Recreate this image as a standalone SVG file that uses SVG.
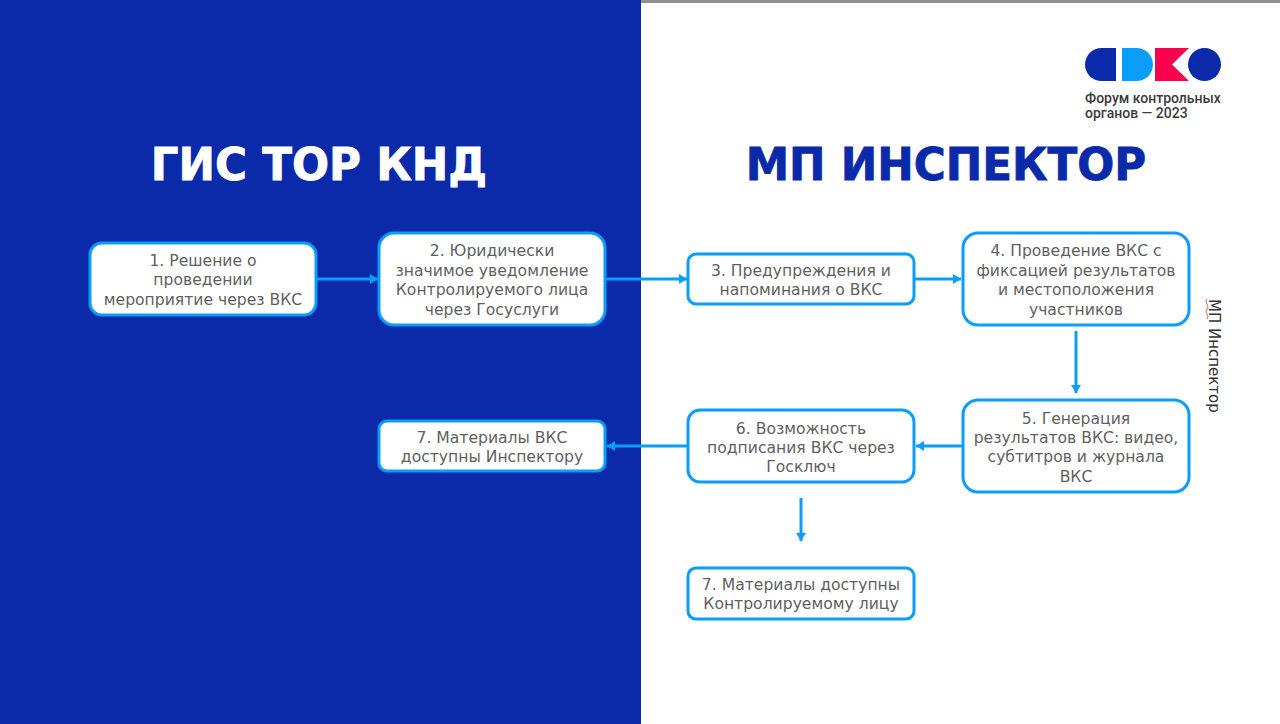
<svg xmlns="http://www.w3.org/2000/svg" width="1280" height="724" viewBox="0 0 1280 724">
<style>
.box{fill:#fff;stroke:#0a9dfb;stroke-width:3}
.t{font-family:"DejaVu Sans",Verdana,sans-serif;font-size:15.6px;fill:#5f5f5f;text-anchor:middle}
.h{font-family:"DejaVu Sans",Verdana,sans-serif;font-weight:700;font-size:43.6px;text-anchor:middle;stroke-width:0.8px}
.c{fill:none;stroke:#0a9dfb;stroke-width:3;marker-end:url(#a)}
.l{font-family:Roboto,"Liberation Sans",sans-serif;font-weight:500;font-size:14px;fill:#3c3c3c}
</style>
<defs>
<marker id="a" markerUnits="userSpaceOnUse" markerWidth="9" markerHeight="10" refX="8" refY="5" orient="auto"><path d="M0 0L8 5L0 10Z" fill="#0a9dfb"/></marker>
</defs>
<rect width="1280" height="724" fill="#fff"/>
<rect width="641" height="724" fill="#0a2aaa"/>
<rect x="641" width="639" height="3" fill="#8f8f8f"/>
<g id="logo">
<path d="M1116 48H1101.500A16.500 16.500 0 0 0 1101.500 81H1116Z" fill="#0a2aaa"/>
<path d="M1122 48H1136.500A16.500 16.500 0 0 1 1136.500 81H1122Z" fill="#0a9dfb"/>
<path d="M1155 48H1189L1172 64.500L1189 81H1155Z" fill="#fb004e"/>
<circle cx="1204.500" cy="64.500" r="16.500" fill="#0a2aaa"/>
<text class="l" x="1085" y="103">Форум контрольных</text>
<text class="l" x="1085" y="118">органов — 2023</text>
</g>
<text class="h" x="319" y="180" fill="#fff" stroke="#fff">ГИС ТОР КНД</text>
<text class="h" x="946" y="180" fill="#0a2aaa" stroke="#0a2aaa">МП ИНСПЕКТОР</text>
<g id="connectors">
<path class="c" d="M317 279H378"/>
<path class="c" d="M606 279H687"/>
<path class="c" d="M915 279H961"/>
<path class="c" d="M1076 331V393"/>
<path class="c" d="M962 446H916"/>
<path class="c" d="M687 446H607"/>
<path class="c" d="M801 498V541"/>
</g>
<g id="n1"><rect class="box" x="90" y="243" width="226" height="72" rx="12"/><text class="t"><tspan x="203" y="265.700">1. Решение о</tspan><tspan x="203" y="285.400">проведении</tspan><tspan x="203" y="304.700">мероприятие через ВКС</tspan></text></g>
<g id="n2"><rect class="box" x="379" y="233" width="226" height="92" rx="15"/><text class="t"><tspan x="492" y="256.400">2. Юридически</tspan><tspan x="492" y="276">значимое уведомление</tspan><tspan x="492" y="295.400">Контролируемого лица</tspan><tspan x="492" y="314.700">через Госуслуги</tspan></text></g>
<g id="n3"><rect class="box" x="688" y="254" width="226" height="50" rx="8"/><text class="t"><tspan x="801" y="275.700">3. Предупреждения и</tspan><tspan x="801" y="294.700">напоминания о ВКС</tspan></text></g>
<g id="n4"><rect class="box" x="963" y="233" width="226" height="92" rx="15"/><text class="t"><tspan x="1076" y="256.400">4. Проведение ВКС с</tspan><tspan x="1076" y="276">фиксацией результатов</tspan><tspan x="1076" y="295.400">и местоположения</tspan><tspan x="1076" y="314.700">участников</tspan></text></g>
<g id="n5"><rect class="box" x="963" y="400" width="226" height="92" rx="15"/><text class="t"><tspan x="1076" y="423.700">5. Генерация</tspan><tspan x="1076" y="443.400">результатов ВКС: видео,</tspan><tspan x="1076" y="462.400">субтитров и журнала</tspan><tspan x="1076" y="481.700">ВКС</tspan></text></g>
<g id="n6"><rect class="box" x="688" y="410" width="226" height="72" rx="12"/><text class="t"><tspan x="801" y="433.700">6. Возможность</tspan><tspan x="801" y="452.700">подписания ВКС через</tspan><tspan x="801" y="471.700">Госключ</tspan></text></g>
<g id="n7a"><rect class="box" x="379" y="421" width="226" height="50" rx="8"/><text class="t"><tspan x="492" y="442.700">7. Материалы ВКС</tspan><tspan x="492" y="462.400">доступны Инспектору</tspan></text></g>
<g id="n7b"><rect class="box" x="688" y="568" width="226" height="51" rx="8"/><text class="t"><tspan x="801" y="589.700">7. Материалы доступны</tspan><tspan x="801" y="609.400">Контролируемому лицу</tspan></text></g>
<text transform="translate(1209 299) rotate(90)" style="font-family:'DejaVu Sans',sans-serif;font-size:15px;fill:#333">МП Инспектор</text>
<path d="M1207 299q-2 3 0 5q2 3 0 5q-2 3 0 5q2 3 0 5" fill="none" stroke="#e23b2e" stroke-width="0.800"/>
</svg>
